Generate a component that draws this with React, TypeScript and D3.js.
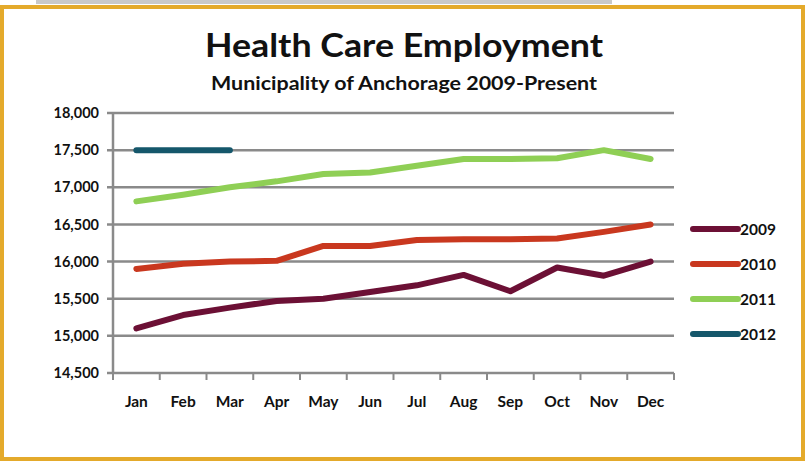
import React, { useEffect, useRef } from "react";
import * as d3 from "d3";

const months = ["Jan", "Feb", "Mar", "Apr", "May", "Jun", "Jul", "Aug", "Sep", "Oct", "Nov", "Dec"];
const yTicks = [14500, 15000, 15500, 16000, 16500, 17000, 17500, 18000];

const y2009 = [15100, 15280, 15380, 15470, 15500, 15590, 15680, 15820, 15600, 15920, 15810, 16000];
const y2010 = [15900, 15970, 16000, 16010, 16210, 16210, 16290, 16300, 16300, 16310, 16400, 16500];
const y2011 = [16810, 16900, 17000, 17080, 17180, 17200, 17290, 17380, 17380, 17390, 17500, 17380];
const y2012 = [17500, 17500, 17500];

const series = [
  { name: "2009", values: y2009, color: "#6c1035" },
  { name: "2010", values: y2010, color: "#c9381f" },
  { name: "2011", values: y2011, color: "#8fcf55" },
  { name: "2012", values: y2012, color: "#15576b" },
];

const FONT = "Lato, 'Open Sans', sans-serif";

export default function App() {
  const ref = useRef<SVGSVGElement>(null);

  useEffect(() => {
    if (!ref.current) return;
    document.body.style.margin = "0";
    const svg = d3.select(ref.current);
    svg.selectAll("*").remove();

    const W = 806,
      H = 461;
    const left = 113,
      right = 674,
      top = 113,
      bottom = 373;

    // frame
    svg.append("rect").attr("width", W).attr("height", H).attr("fill", "#fff");
    svg
      .append("rect")
      .attr("x", 36)
      .attr("y", 0)
      .attr("width", 576)
      .attr("height", 4)
      .attr("fill", "#c9c9c9");
    svg
      .append("rect")
      .attr("x", 2)
      .attr("y", 7)
      .attr("width", 801)
      .attr("height", 452)
      .attr("fill", "none")
      .attr("stroke", "#e4aa2b")
      .attr("stroke-width", 4);

    // titles
    svg
      .append("text")
      .attr("x", 404)
      .attr("y", 57)
      .attr("text-anchor", "middle")
      .attr("font-family", FONT)
      .attr("font-weight", "bold")
      .attr("font-size", 33)
      .attr("textLength", 398)
      .attr("lengthAdjust", "spacingAndGlyphs")
      .attr("fill", "#111")
      .text("Health Care Employment");
    svg
      .append("text")
      .attr("x", 404)
      .attr("y", 90)
      .attr("text-anchor", "middle")
      .attr("font-family", FONT)
      .attr("font-weight", "bold")
      .attr("font-size", 19)
      .attr("textLength", 386)
      .attr("lengthAdjust", "spacingAndGlyphs")
      .attr("fill", "#111")
      .text("Municipality of Anchorage 2009-Present");

    const x = d3.scaleBand<string>().domain(months).range([left, right]);
    const cx = (i: number) => (x(months[i]) ?? 0) + x.bandwidth() / 2;
    const y = d3.scaleLinear().domain([14500, 18000]).range([bottom, top]);

    const grid = "#8a8a8a";
    // gridlines + y ticks
    svg
      .append("g")
      .selectAll("line")
      .data(yTicks)
      .enter()
      .append("line")
      .attr("x1", left - 6)
      .attr("x2", right)
      .attr("y1", (d) => y(d))
      .attr("y2", (d) => y(d))
      .attr("stroke", grid)
      .attr("stroke-width", 2.5);

    svg
      .append("g")
      .selectAll("text")
      .data(yTicks)
      .enter()
      .append("text")
      .attr("x", 99)
      .attr("y", (d) => y(d))
      .attr("dy", "0.35em")
      .attr("text-anchor", "end")
      .attr("font-family", FONT)
      .attr("font-weight", "bold")
      .attr("font-size", 14.5)
      .attr("fill", "#111")
      .text((d) => d3.format(",")(d));

    // y axis
    svg
      .append("line")
      .attr("x1", left)
      .attr("x2", left)
      .attr("y1", top)
      .attr("y2", bottom)
      .attr("stroke", grid)
      .attr("stroke-width", 2.5);

    // x ticks at band boundaries
    const bounds = months.map((m) => x(m) ?? 0).concat([right]);
    svg
      .append("g")
      .selectAll("line")
      .data(bounds)
      .enter()
      .append("line")
      .attr("x1", (d) => d)
      .attr("x2", (d) => d)
      .attr("y1", bottom)
      .attr("y2", bottom + 7)
      .attr("stroke", grid)
      .attr("stroke-width", 2);

    svg
      .append("g")
      .selectAll("text")
      .data(months)
      .enter()
      .append("text")
      .attr("x", (d, i) => cx(i))
      .attr("y", 407)
      .attr("text-anchor", "middle")
      .attr("font-family", FONT)
      .attr("font-weight", "bold")
      .attr("font-size", 15.5)
      .attr("fill", "#111")
      .text((d) => d);

    // lines
    const line = d3
      .line<number>()
      .x((d, i) => cx(i))
      .y((d) => y(d));

    series.forEach((s) => {
      svg
        .append("path")
        .attr("d", line(s.values) ?? "")
        .attr("fill", "none")
        .attr("stroke", s.color)
        .attr("stroke-width", 6)
        .attr("stroke-linejoin", "round")
        .attr("stroke-linecap", "round");
    });

    // legend
    const lg = svg.append("g");
    series.forEach((s, i) => {
      const ly = 229 + i * 35;
      lg.append("line")
        .attr("x1", 693)
        .attr("x2", 738)
        .attr("y1", ly)
        .attr("y2", ly)
        .attr("stroke", s.color)
        .attr("stroke-width", 6)
        .attr("stroke-linecap", "round");
      lg.append("text")
        .attr("x", 740)
        .attr("y", ly)
        .attr("dy", "0.36em")
        .attr("font-family", FONT)
        .attr("font-weight", "bold")
        .attr("font-size", 15.5)
        .attr("fill", "#111")
        .text(s.name);
    });
  }, []);

  return <svg ref={ref} width={806} height={461} style={{ display: "block" }} />;
}
